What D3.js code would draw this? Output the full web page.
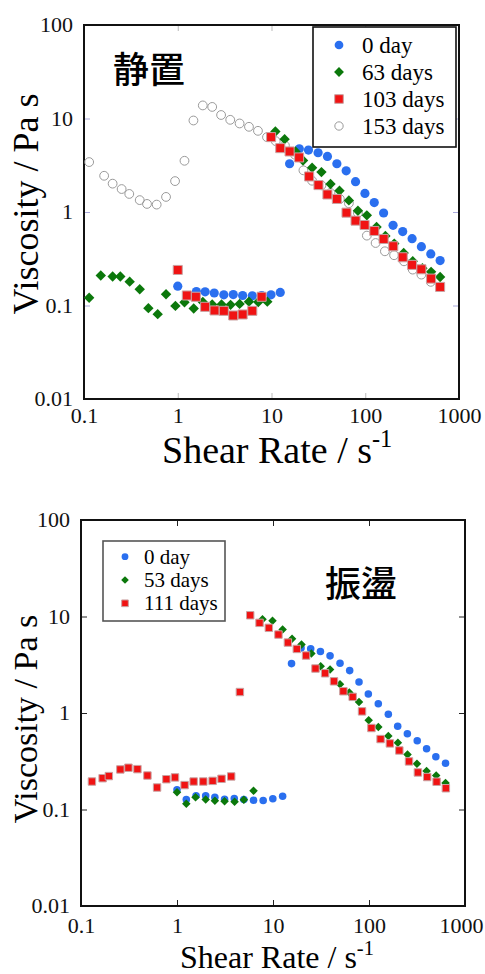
<!DOCTYPE html>
<html>
<head>
<meta charset="utf-8">
<script src="https://cdn.jsdelivr.net/npm/d3@7"></script>
<style>
  body { margin: 0; background: #fff; }
  svg { display: block; }
  .serif { font-family: "Liberation Serif", "Times New Roman", serif; }
  .tick text { font-family: "Liberation Serif", "Times New Roman", serif; font-size: 22px; fill: #111; }
</style>
</head>
<body>
<div id="chart"></div>
<script>
// decade ticks shared by both panels
const xTicks = [0.1, 1, 10, 100, 1000];
const yTicks = [0.01, 0.1, 1, 10, 100];

// top panel (静置): [shear rate, viscosity]
const top0day = [
  [1.0, 0.161], [1.58, 0.141], [1.96, 0.140], [2.45, 0.136], [3.10, 0.130], [3.91, 0.131],
  [4.92, 0.128], [6.24, 0.127], [7.85, 0.128], [9.88, 0.130], [12.4, 0.138],
  [15.6, 3.28], [19.8, 4.74], [24.8, 4.59], [31.4, 4.30], [39.5, 3.93], [49.8, 3.28],
  [62.6, 2.76], [78.8, 2.11], [99.2, 1.58], [124.8, 1.26], [157, 0.976], [198, 0.721],
  [251, 0.617], [316, 0.519], [397, 0.426], [500, 0.356], [629, 0.302]
];
const top63days = [
  [0.1135, 0.121], [0.151, 0.209], [0.202, 0.204], [0.244, 0.204], [0.307, 0.180],
  [0.393, 0.149], [0.486, 0.0937], [0.611, 0.0808], [0.75, 0.132], [0.944, 0.099],
  [1.18, 0.108], [1.48, 0.093], [1.85, 0.109], [2.33, 0.1025], [2.93, 0.1025],
  [3.66, 0.1016], [4.57, 0.104], [5.75, 0.110], [7.23, 0.109], [9.02, 0.110],
  [11.0, 7.27], [13.8, 6.01], [18.0, 4.44], [21.7, 3.56], [27.1, 2.97], [34.1, 2.67],
  [42.6, 1.99], [53.1, 1.69], [66.9, 1.33], [83.5, 1.03], [104, 0.921], [132, 0.691],
  [164, 0.554], [204, 0.459], [257, 0.365], [321, 0.297], [407, 0.250], [504, 0.229],
  [629, 0.202]
];
const top103days = [
  [1.0, 0.240], [1.25, 0.128], [1.56, 0.124], [1.96, 0.0968], [2.47, 0.0885],
  [3.10, 0.0877], [3.91, 0.0782], [4.92, 0.0802], [6.24, 0.0877], [7.85, 0.124],
  [9.9, 6.32], [12.4, 4.82], [15.6, 4.44], [19.7, 3.83], [25.2, 2.40], [31.7, 1.94],
  [39.5, 1.54], [49.8, 1.38], [63.1, 0.984], [78.8, 0.808], [98.4, 0.726], [125, 0.627],
  [157, 0.515], [199, 0.430], [251, 0.328], [316, 0.272], [397, 0.244], [504, 0.194],
  [629, 0.158]
];
const top153days = [
  [0.1135, 3.42], [0.164, 2.44], [0.202, 2.01], [0.252, 1.76], [0.304, 1.56], [0.393, 1.34],
  [0.470, 1.22], [0.596, 1.20], [0.75, 1.45], [0.936, 2.14], [1.18, 3.53], [1.47, 9.52],
  [1.85, 13.8], [2.33, 13.3], [2.90, 10.9], [3.63, 9.68], [4.57, 8.85], [5.75, 8.15],
  [7.17, 7.38], [8.95, 6.32], [11.1, 5.73], [13.9, 5.15], [17.8, 4.10], [21.9, 2.79],
  [27.1, 2.16], [34.1, 1.93], [42.6, 1.60], [53.6, 1.38], [66.9, 1.24], [83.5, 0.976],
  [104, 0.559], [129, 0.466], [162, 0.380], [203, 0.345], [259, 0.297], [321, 0.242],
  [397, 0.214], [500, 0.179]
];

// bottom panel (振盪)
const bot0day = [
  [1.0, 0.160], [1.25, 0.127], [1.58, 0.139], [1.99, 0.139], [2.48, 0.134], [3.13, 0.128],
  [3.95, 0.130], [4.97, 0.127], [6.27, 0.125], [7.9, 0.124], [9.96, 0.129], [12.6, 0.137],
  [15.6, 3.25], [19.6, 4.73], [24.7, 4.62], [31.2, 4.33], [39.3, 3.91], [49.9, 3.28],
  [62.9, 2.75], [78.7, 2.10], [98.4, 1.57], [125, 1.25], [159, 0.969], [199, 0.728],
  [251, 0.610], [318, 0.516], [398, 0.427], [497, 0.352], [627, 0.301]
];
const bot53days = [
  [1.0, 0.151], [1.25, 0.115], [1.56, 0.134], [1.99, 0.127], [2.48, 0.123], [3.13, 0.122],
  [3.98, 0.120], [4.97, 0.126], [6.27, 0.156],
  [7.78, 9.38], [9.88, 9.02], [12.6, 7.33], [15.8, 5.87], [19.8, 5.12], [25.1, 4.13],
  [31.4, 3.05], [39.3, 2.82], [49.9, 1.99], [62.4, 1.63], [78.7, 1.30], [99.3, 0.839],
  [125, 0.716], [159, 0.577], [200, 0.492], [252, 0.372], [316, 0.298], [398, 0.250],
  [501, 0.225], [627, 0.188]
];
const bot111days = [
  [0.130, 0.195], [0.168, 0.211], [0.195, 0.222], [0.257, 0.260], [0.312, 0.271],
  [0.387, 0.262], [0.492, 0.225], [0.620, 0.169], [0.775, 0.206], [0.953, 0.215],
  [1.20, 0.179], [1.49, 0.195], [1.88, 0.195], [2.35, 0.198], [2.91, 0.208], [3.67, 0.220],
  [4.52, 1.65],
  [5.79, 10.3], [7.24, 8.59], [9.05, 7.63], [11.4, 6.50], [14.3, 5.37], [17.7, 4.61],
  [22.1, 3.94], [27.7, 2.89], [34.9, 2.58], [43.2, 2.13], [54.1, 1.68], [67.6, 1.47],
  [84.6, 1.04], [106, 0.699], [132, 0.537], [165, 0.484], [207, 0.409], [261, 0.315],
  [323, 0.242], [404, 0.217], [506, 0.194], [632, 0.166]
];

const blue = '#2a6fef', green = '#0b780b', red = '#f01313';

const svg = d3.select('#chart').append('svg')
  .attr('width', 485).attr('height', 974);

//a marker drawer for each style, s = scale factor
function marker(g, type, s){
  if(type === 'circle'){
    g.append('circle').attr('r', 4.6*s).style('fill', blue);
  } else if(type === 'diamond'){
    g.append('path').attr('d', d3.symbol(d3.symbolSquare, 54*s*s)())
      .attr('transform', 'rotate(45)').style('fill', green);
  } else if(type === 'square'){
    g.append('path').attr('d', d3.symbol(d3.symbolSquare, 82*s*s)())
      .style('fill', red).style('stroke', '#c9a3a3').style('stroke-width', 1);
  } else {
    g.append('circle').attr('r', 4.4*s)
      .style('fill', 'none').style('stroke', '#9a9a9a').style('stroke-width', 1);
  }
}

function drawPanel(p){
  const scaleX = d3.scaleLog().domain([0.1, 1000]).range([p.l, p.r]);
  const scaleY = d3.scaleLog().domain([0.01, 100]).range([p.b, p.t]);
  const fmt = d => String(d);
  const plot = svg.append('g');

  plot.append('g').attr('transform', `translate(${p.l},0)`)
    .call(d3.axisLeft(scaleY).tickValues(yTicks).tickFormat(fmt).tickSize(-6).tickPadding(11))
    .call(g => g.selectAll('line').style('stroke', p.yTickColor))
    .call(g => g.selectAll('text').attr('dy', '0.3em'));
  plot.append('g').attr('transform', `translate(${p.r},0)`)
    .call(d3.axisRight(scaleY).tickValues(yTicks).tickFormat('').tickSize(-6))
    .call(g => g.selectAll('line').style('stroke', p.yTickColor));
  plot.append('g').attr('transform', `translate(0,${p.b})`)
    .call(d3.axisBottom(scaleX).tickValues(xTicks).tickFormat(fmt).tickSize(-6).tickPadding(p.xPad))
    .call(g => g.selectAll('line').style('stroke', p.xTickColor))
    .call(g => g.selectAll('text').filter(d => d === 1000).attr('dx', p.lastDx));
  plot.append('g').attr('transform', `translate(0,${p.t})`)
    .call(d3.axisTop(scaleX).tickValues(xTicks).tickFormat('').tickSize(-6))
    .call(g => g.selectAll('line').style('stroke', p.xTickColor));
  plot.selectAll('.domain').remove();

  plot.append('rect')
    .attr('x', p.l).attr('y', p.t)
    .attr('width', p.r - p.l).attr('height', p.b - p.t)
    .style('fill', 'none').style('stroke', '#111').style('stroke-width', 2);

  p.series.forEach(function(s){
    plot.append('g').selectAll('g')
      .data(s.data)
      .join('g')
      .attr('transform', d => `translate(${scaleX(d[0])},${scaleY(d[1])})`)
      .each(function(){ marker(d3.select(this), s.type, p.ms); });
  });

  //axis titles
  plot.append('text')
    .attr('class', 'serif')
    .attr('transform', `translate(${p.yl[0]},${p.yl[1]}) rotate(-90)`)
    .attr('text-anchor', 'middle')
    .style('font-size', p.yFont + 'px')
    .text('Viscosity / Pa s');

  const xl = plot.append('text')
    .attr('class', 'serif')
    .attr('x', p.xl[0]).attr('y', p.xl[1])
    .style('font-size', p.xFont + 'px');
  xl.append('tspan').text('Shear Rate / s');
  xl.append('tspan').attr('dy', -p.xFont * 0.42).style('font-size', (p.xFont * 0.64) + 'px').text('-1');

  //panel title
  plot.append('text')
    .attr('x', p.title[0]).attr('y', p.title[1])
    .style('font-family', '"Noto Sans CJK JP", "Noto Sans CJK SC", sans-serif')
    .style('font-size', '36px').style('font-weight', 500)
    .text(p.titleText);

  //legend
  const lg = p.legend;
  plot.append('rect')
    .attr('x', lg.x).attr('y', lg.y).attr('width', lg.w).attr('height', lg.h)
    .style('fill', '#fff').style('stroke', lg.stroke).style('stroke-width', 1.6);
  lg.order.forEach(function(s, i){
    const row = plot.append('g')
      .attr('transform', `translate(${lg.mx},${lg.row0 + i * lg.dy})`);
    marker(row.append('g'), s.type, p.ms * lg.ms);
    row.append('text')
      .attr('class', 'serif')
      .attr('x', lg.tx - lg.mx).attr('y', lg.font * 0.33)
      .style('font-size', lg.font + 'px')
      .text(s.name);
  });
}

const topSeries = [
  { name: '153 days', type: 'open', data: top153days },
  { name: '0 day', type: 'circle', data: top0day },
  { name: '63 days', type: 'diamond', data: top63days },
  { name: '103 days', type: 'square', data: top103days }
];
const botSeries = [
  { name: '0 day', type: 'circle', data: bot0day },
  { name: '53 days', type: 'diamond', data: bot53days },
  { name: '111 days', type: 'square', data: bot111days }
];

drawPanel({
  l: 84, r: 459, t: 25, b: 399, ms: 1, lastDx: 0,
  yTickColor: '#a9a9dc', xTickColor: '#bbbbbb', xPad: 8,
  yl: [38, 204], yFont: 36, xl: [162, 463], xFont: 38,
  title: [113, 83], titleText: '静置',
  series: topSeries,
  legend: { x: 313, y: 27, w: 143, h: 120, stroke: '#111', mx: 339, tx: 362, row0: 45, dy: 27, font: 23, ms: 0.95,
    order: [topSeries[1], topSeries[2], topSeries[3], topSeries[0]] }
});

drawPanel({
  l: 81, r: 465, t: 520, b: 906, ms: 0.82, lastDx: -4,
  yTickColor: '#222', xTickColor: '#222', xPad: 11,
  yl: [37, 719], yFont: 34, xl: [180, 968], xFont: 32,
  title: [325, 597], titleText: '振盪',
  series: botSeries,
  legend: { x: 103, y: 541, w: 122, h: 80, stroke: '#555', mx: 125, tx: 144, row0: 556.7, dy: 23.3, font: 21, ms: 0.9,
    order: botSeries }
});
</script>
</body>
</html>
